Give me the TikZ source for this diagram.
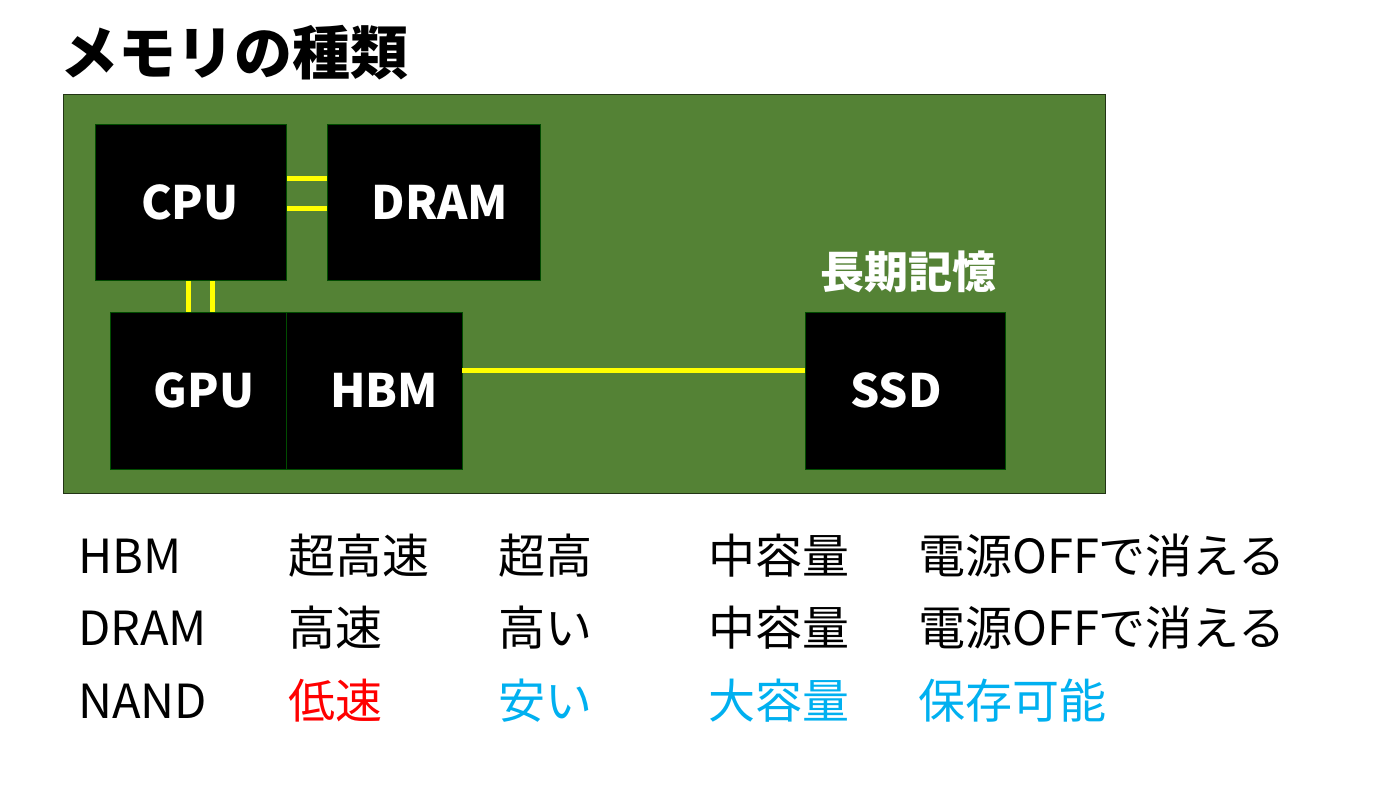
\documentclass[tikz,border=0pt]{standalone}
\usepackage{fontspec}
\setmainfont{Noto Sans CJK JP}
\begin{document}
\begin{tikzpicture}[x=1pt,y=-1pt,
  box/.style={fill=black,draw=black!70!green,line width=1pt},
  lbl/.style={text=white,font=\bfseries\fontsize{46}{50}\selectfont,inner sep=0pt},
  bus/.style={draw={rgb,255:red,255;green,255;blue,0},line width=5pt},
  cell/.style={anchor=base west,inner sep=0pt,font=\fontsize{47}{50}\selectfont}]
\useasboundingbox (0,0) rectangle (1400,787);
\fill[white] (0,0) rectangle (1400,787);
\definecolor{board}{RGB}{84,130,53}
\definecolor{cred}{RGB}{255,0,0}
\definecolor{cblue}{RGB}{0,176,240}
\node[anchor=base west,inner sep=0pt,font=\bfseries\fontsize{58}{60}\selectfont] (title) at (60,74) {メモリの種類};
\draw[fill=board,draw=black!60!board,line width=1pt] (63,94) rectangle (1105,493);
\coordinate (c1a) at (286,178); \coordinate (c1b) at (327,178);
\coordinate (c2a) at (286,208); \coordinate (c2b) at (327,208);
\coordinate (v1a) at (188,280); \coordinate (v1b) at (188,312);
\coordinate (v2a) at (212,280); \coordinate (v2b) at (212,312);
\draw[bus] (c1a) -- (c1b); \draw[bus] (c2a) -- (c2b);
\draw[bus] (v1a) -- (v1b); \draw[bus] (v2a) -- (v2b);
\draw[box] (95,124) rectangle (286,280);
\node[lbl] (cpu) at (190,202) {CPU};
\draw[box] (327,124) rectangle (540,280);
\node[lbl] (dram) at (440,202) {DRAM};
\draw[box] (110,312) rectangle (286,469);
\node[lbl] (gpu) at (204,390) {GPU};
\draw[box] (286,312) rectangle (462,469);
\node[lbl] (hbm) at (384,390) {HBM};
\draw[box] (805,312) rectangle (1005,469);
\node[lbl] (ssd) at (896,390) {SSD};
\coordinate (hr) at (462,370); \coordinate (sl) at (805,370);
\draw[bus] (hr) -- (sl);
\node[lbl,font=\bfseries\fontsize{44}{46}\selectfont] (long) at (908,272) {長期記憶};
\node[cell] (r1a) at (78,573) {HBM};
\node[cell] (r1b) at (288,573) {超高速};
\node[cell] (r1c) at (498,573) {超高};
\node[cell] (r1d) at (708,573) {中容量};
\node[cell] (r1e) at (918,573) {電源OFFで消える};
\node[cell] (r2a) at (78,645) {DRAM};
\node[cell] (r2b) at (288,645) {高速};
\node[cell] (r2c) at (498,645) {高い};
\node[cell] (r2d) at (708,645) {中容量};
\node[cell] (r2e) at (918,645) {電源OFFで消える};
\node[cell] (r3a) at (78,718) {NAND};
\node[cell,text=cred] (r3b) at (288,718) {低速};
\node[cell,text=cblue] (r3c) at (498,718) {安い};
\node[cell,text=cblue] (r3d) at (708,718) {大容量};
\node[cell,text=cblue] (r3e) at (918,718) {保存可能};
\end{tikzpicture}
\end{document}
